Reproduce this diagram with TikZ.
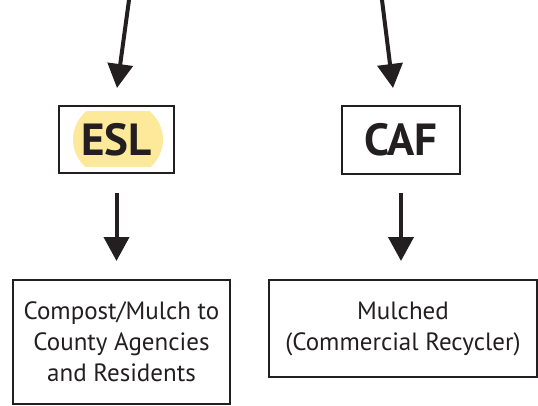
\documentclass[tikz,border=0pt]{standalone}
\usepackage{fontspec}
\setmainfont{PT Sans}
\usetikzlibrary{arrows.meta}
\definecolor{ink}{HTML}{231F20}
\definecolor{hilite}{HTML}{FDE99A}
\tikzset{
  box/.style={draw=ink, line width=2pt, inner sep=0pt, align=center, text=ink},
  bigbox/.style={box, font=\fontsize{45}{48}\selectfont\bfseries},
  txtbox/.style={box, font=\fontsize{25}{31}\selectfont},
  arr/.style={draw=ink, line width=4pt, -{Triangle[width=25pt,length=24pt]}},
}
\begin{document}
\begin{tikzpicture}[x=1pt,y=-1pt]
\useasboundingbox (0,0) rectangle (538,406);
% yellow highlight behind ESL
\begin{scope}
\clip (60,112) rectangle (175,167);
\fill[hilite] (118,139.5) ellipse [x radius=45, y radius=40];
\end{scope}
\node[bigbox, minimum width=115pt, minimum height=67pt] (esl) at (116.5,139.5) {ESL};
\node[bigbox, minimum width=118pt, minimum height=68pt] (caf) at (401,140) {CAF};
\node[txtbox, minimum width=217pt, minimum height=124pt] (comp) at (121.5,342) {Compost/Mulch to\\County Agencies\\and Residents};
\node[txtbox, minimum width=268pt, minimum height=97pt] (mulch) at (403,328.5) {Mulched\\(Commercial Recycler)};
\coordinate (s1) at (129,0);
\coordinate (t1) at (117,88);
\coordinate (s2) at (382,0);
\coordinate (t2) at (393,88);
\draw[arr] (s1) -- (t1);
\draw[arr] (s2) -- (t2);
\draw[arr, shorten <=19pt, shorten >=18pt] (esl.south) -- (esl.south |- comp.north);
\draw[arr, shorten <=18pt, shorten >=18pt] (caf.south) -- (caf.south |- mulch.north);
\end{tikzpicture}
\end{document}
